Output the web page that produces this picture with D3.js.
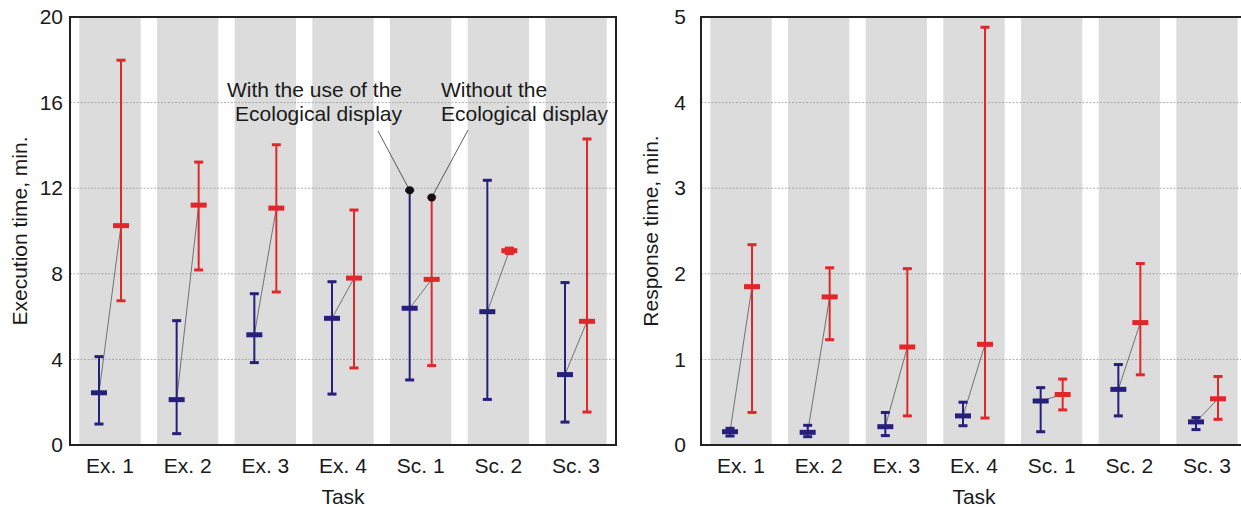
<!DOCTYPE html>
<html>
<head>
<meta charset="utf-8">
<script src="https://cdn.jsdelivr.net/npm/d3@7"></script>
<style>
  html, body { margin: 0; padding: 0; background: #fff; }
  svg { display: block; }
  text { font-family: "Liberation Sans", Arial, sans-serif; fill: #1a1a1a; }
</style>
</head>
<body>
<svg id="chart" width="1241" height="507"></svg>
<script>
// ---------- DATA ----------
const categories = ["Ex. 1", "Ex. 2", "Ex. 3", "Ex. 4", "Sc. 1", "Sc. 2", "Sc. 3"];

// Execution time (min.) — with Ecological display (blue)
const execWithMean  = [2.44, 2.12, 5.15, 5.92, 6.39, 6.23, 3.29];
const execWithHigh  = [4.13, 5.81, 7.07, 7.63, 11.90, 12.37, 7.59];
const execWithLow   = [0.98, 0.53, 3.85, 2.38, 3.04, 2.13, 1.07];
// Execution time (min.) — without Ecological display (red)
const execWithoutMean = [10.25, 11.21, 11.07, 7.80, 7.74, 9.08, 5.78];
const execWithoutHigh = [17.98, 13.22, 14.03, 10.98, 11.57, 9.20, 14.30];
const execWithoutLow  = [6.74, 8.18, 7.15, 3.60, 3.71, 8.95, 1.54];

// Response time (min.) — with Ecological display (blue)
const respWithMean  = [0.155, 0.148, 0.214, 0.34, 0.514, 0.65, 0.27];
const respWithHigh  = [0.195, 0.23, 0.38, 0.50, 0.67, 0.94, 0.32];
const respWithLow   = [0.105, 0.097, 0.11, 0.225, 0.155, 0.34, 0.18];
// Response time (min.) — without Ecological display (red)
const respWithoutMean = [1.85, 1.73, 1.145, 1.176, 0.59, 1.43, 0.54];
const respWithoutHigh = [2.34, 2.07, 2.06, 4.88, 0.77, 2.12, 0.80];
const respWithoutLow  = [0.38, 1.23, 0.34, 0.315, 0.41, 0.82, 0.30];

const execTicks = [0, 4, 8, 12, 16, 20];
const respTicks = [0, 1, 2, 3, 4, 5];

const annotWith = ["With the use of the", "Ecological display"];
const annotWithout = ["Without the", "Ecological display"];

// ---------- STYLE ----------
const BLUE = "#261f7c";
const RED = "#e2272b";
const BAND = "#dcdcdc";
const FS = 21;

const svg = d3.select("#chart");

function panel(opts) {
  const { left, right, top, bottom, yMax, ticks, tickPad, yTitle, titleX,
          wMean, wHigh, wLow, woMean, woHigh, woLow } = opts;

  const g = svg.append("g");
  const x = d3.scaleBand().domain(categories).range([left, right])
    .paddingInner(0.21).paddingOuter(0.12);
  const y = d3.scaleLinear().domain([0, yMax]).range([bottom, top]);
  const off = 11;

  // bands
  g.selectAll("rect.band").data(categories).join("rect")
    .attr("class", "band")
    .attr("x", d => x(d)).attr("y", top + 1)
    .attr("width", x.bandwidth()).attr("height", bottom - top - 1)
    .attr("fill", BAND);

  // gridlines
  g.selectAll("line.grid").data(ticks.filter(t => t > 0 && t < yMax)).join("line")
    .attr("class", "grid")
    .attr("x1", left).attr("x2", right)
    .attr("y1", d => y(d)).attr("y2", d => y(d))
    .attr("stroke", "#9a9a9a").attr("stroke-width", 0.8)
    .attr("stroke-dasharray", "2,1.5");

  const idx = d3.range(categories.length);
  const cx = i => x(categories[i]) + x.bandwidth() / 2;

  // connecting lines
  g.selectAll("line.conn").data(idx).join("line")
    .attr("x1", i => cx(i) - off).attr("y1", i => y(wMean[i]))
    .attr("x2", i => cx(i) + off).attr("y2", i => y(woMean[i]))
    .attr("stroke", "#555").attr("stroke-width", 0.8);

  function series(mean, hi, lo, dx, color) {
    const s = g.append("g");
    s.selectAll("line.v").data(idx).join("line")
      .attr("x1", i => cx(i) + dx).attr("x2", i => cx(i) + dx)
      .attr("y1", i => y(hi[i])).attr("y2", i => y(lo[i]))
      .attr("stroke", color).attr("stroke-width", 2);
    [hi, lo].forEach(arr => {
      s.append("g").selectAll("rect").data(idx).join("rect")
        .attr("x", i => cx(i) + dx - 4.5).attr("y", i => y(arr[i]) - 1.5)
        .attr("width", 9).attr("height", 3).attr("fill", color);
    });
    s.append("g").selectAll("rect").data(idx).join("rect")
      .attr("x", i => cx(i) + dx - 8).attr("y", i => y(mean[i]) - 2.5)
      .attr("width", 16).attr("height", 5).attr("fill", color);
  }
  series(wMean, wHigh, wLow, -off, BLUE);
  series(woMean, woHigh, woLow, off, RED);

  // frame
  g.append("rect").attr("x", left).attr("y", top)
    .attr("width", right - left).attr("height", bottom - top)
    .attr("fill", "none").attr("stroke", "#222").attr("stroke-width", 2);

  // y axis
  const ya = d3.axisLeft(y).tickValues(ticks).tickSize(0).tickPadding(tickPad)
    .tickFormat(d3.format("d"));
  const yg = g.append("g").attr("transform", `translate(${left},0)`).call(ya);
  yg.select(".domain").remove();
  yg.selectAll("text").attr("font-size", FS).attr("fill", "#1a1a1a")
    .attr("font-family", '"Liberation Sans", Arial, sans-serif');

  // x axis
  const xa = d3.axisBottom(x).tickSize(0).tickPadding(13);
  const xg = g.append("g").attr("transform", `translate(0,${bottom})`).call(xa);
  xg.select(".domain").remove();
  xg.selectAll("text").attr("font-size", FS).attr("fill", "#1a1a1a")
    .attr("font-family", '"Liberation Sans", Arial, sans-serif');

  // titles
  g.append("text").attr("transform", `translate(${titleX},${(top + bottom) / 2}) rotate(-90)`)
    .attr("text-anchor", "middle").attr("font-size", FS).text(yTitle);
  g.append("text").attr("x", (left + right) / 2).attr("y", 504)
    .attr("text-anchor", "middle").attr("font-size", FS).text("Task");

  return { g, x, y, cx, off };
}

const L = panel({
  left: 70, right: 616, top: 17, bottom: 445, yMax: 20, ticks: execTicks, tickPad: 7,
  yTitle: "Execution time, min.", titleX: 27,
  wMean: execWithMean, wHigh: execWithHigh, wLow: execWithLow,
  woMean: execWithoutMean, woHigh: execWithoutHigh, woLow: execWithoutLow
});

panel({
  left: 701, right: 1247, top: 17, bottom: 445, yMax: 5, ticks: respTicks, tickPad: 15,
  yTitle: "Response time, min.", titleX: 658,
  wMean: respWithMean, wHigh: respWithHigh, wLow: respWithLow,
  woMean: respWithoutMean, woHigh: respWithoutHigh, woLow: respWithoutLow
});

// ---------- ANNOTATIONS (left panel, Sc. 1) ----------
const sc = categories.indexOf("Sc. 1");
const dotW = [L.cx(sc) - L.off, L.y(execWithHigh[sc])];
const dotWo = [L.cx(sc) + L.off, L.y(execWithoutHigh[sc])];
const ag = L.g.append("g");
ag.append("line").attr("x1", 378).attr("y1", 131).attr("x2", dotW[0]).attr("y2", dotW[1])
  .attr("stroke", "#333").attr("stroke-width", 0.8);
ag.append("line").attr("x1", 468).attr("y1", 130).attr("x2", dotWo[0]).attr("y2", dotWo[1])
  .attr("stroke", "#333").attr("stroke-width", 0.8);
ag.append("circle").attr("cx", dotW[0]).attr("cy", dotW[1]).attr("r", 4).attr("fill", "#111");
ag.append("circle").attr("cx", dotWo[0]).attr("cy", dotWo[1]).attr("r", 4).attr("fill", "#111");

ag.selectAll("text.aw").data(annotWith).join("text").attr("class", "aw")
  .attr("x", 402).attr("y", (d, i) => 97 + i * 23.5)
  .attr("text-anchor", "end").attr("font-size", FS).text(d => d);
ag.selectAll("text.awo").data(annotWithout).join("text").attr("class", "awo")
  .attr("x", 441).attr("y", (d, i) => 97 + i * 23.5)
  .attr("text-anchor", "start").attr("font-size", FS).text(d => d);
</script>
</body>
</html>
